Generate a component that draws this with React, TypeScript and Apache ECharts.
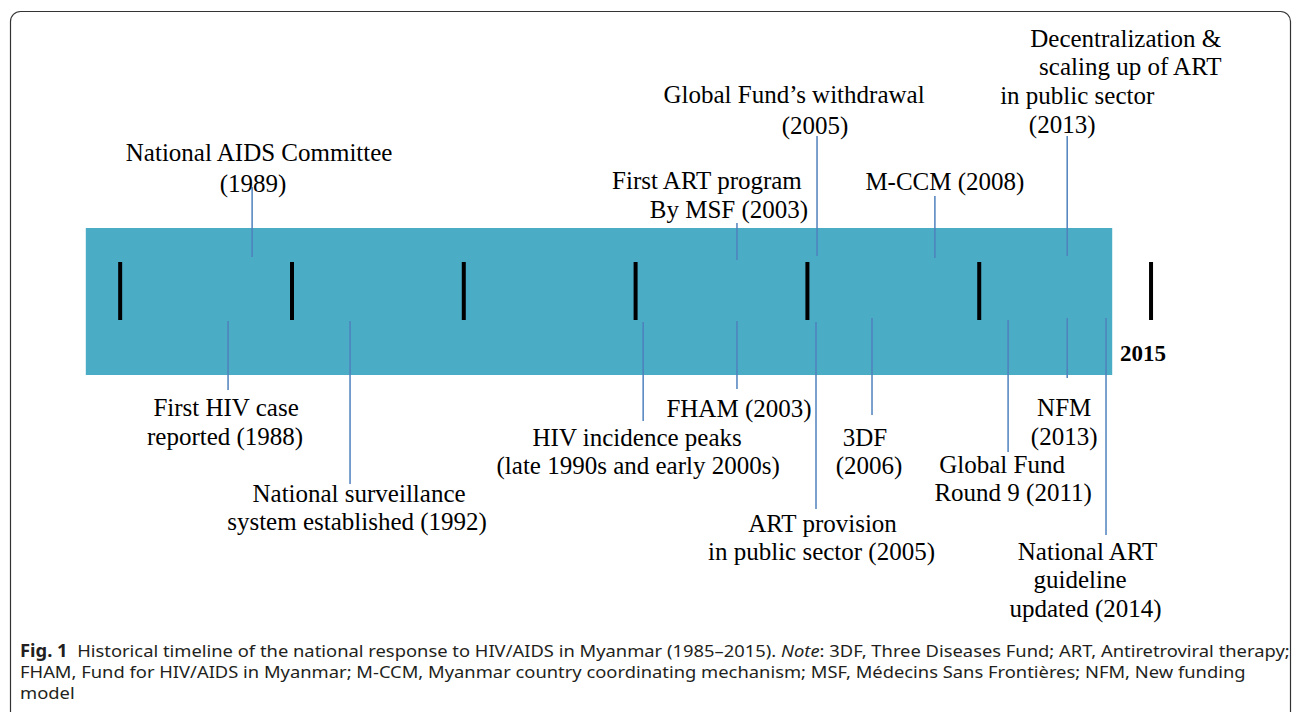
import React, { useEffect, useRef } from "react";
import * as echarts from "echarts";

// ---------- data ----------
const tickYears = [1985, 1990, 1995, 2000, 2005, 2010, 2015];
const tickLabels = ["", "", "", "", "", "", "2015"];
const timelineSpan = [1984, 2013.87]; // extent of the shaded band (years)

const eventText = [
  "National AIDS Committee\n(1989)",
  "First HIV case\nreported (1988)",
  "National surveillance\nsystem established (1992)",
  "HIV incidence peaks\n(late 1990s and early 2000s)",
  "First ART program\nBy MSF (2003)",
  "FHAM (2003)",
  "Global Fund’s withdrawal\n(2005)",
  "ART provision\nin public sector (2005)",
  "3DF\n(2006)",
  "M-CCM (2008)",
  "Global Fund\nRound 9 (2011)",
  "Decentralization &\n scaling up of ART\nin public sector\n(2013)",
  "NFM\n(2013)",
  "National ART\nguideline\nupdated (2014)",
];
const eventYear = [1989, 1988, 1992, 2000, 2003, 2003, 2005, 2005, 2006, 2008, 2011, 2013, 2013, 2014];
// where each event's pointer sits on the drawn timeline (in years)
const eventAnchor = [
  1988.84, 1988.14, 1991.69, 2000.22, 2002.95, 2002.95, 2005.28, 2005.25, 2006.88, 2008.71, 2010.84,
  2012.56, 2012.56, 2013.69,
];

const captionLines = [
  "{b|Fig. 1}  Historical timeline of the national response to HIV/AIDS in Myanmar (1985–2015). {i|Note}: 3DF, Three Diseases Fund; ART, Antiretroviral therapy;",
  "FHAM, Fund for HIV/AIDS in Myanmar; M-CCM, Myanmar country coordinating mechanism; MSF, Médecins Sans Frontières; NFM, New funding",
  "model",
];

// ---------- layout (pixels) ----------
const eventLine: number[][] = [
  [187, 257],
  [321, 390],
  [321, 484],
  [322, 421],
  [223, 260],
  [321, 389],
  [136, 256],
  [322, 509],
  [318, 415],
  [196, 258],
  [320, 452],
  [136, 256],
  [318, 378],
  [318, 535],
];
const eventLabelPos: number[][][] = [
  [[7, 152], [1, 183]],
  [[-2, 407.5], [-3, 436.5]],
  [[9, 493], [7, 521.5]],
  [[-6, 437], [-5, 465]],
  [[-30, 180], [-8, 209.5]],
  [[2, 408]],
  [[-23, 94.5], [-2, 125]],
  [[6.5, 523], [5.5, 551]],
  [[-7, 437], [-3, 465]],
  [[10, 181]],
  [[-6, 464.5], [5, 492.5]],
  [[58.5, 38], [60, 66], [10, 95], [-5, 124]],
  [[-3, 407.5], [-3, 436.5]],
  [[-18.5, 551], [-26, 579.5], [-20.5, 608]],
];

const SERIF = "'Liberation Serif', 'Times New Roman', serif";
const SANS = "'Noto Sans', 'Open Sans', sans-serif";
const BAND_COLOR = "#4BACC6";
const LINE_COLOR = "#4F81BD";
const CAP_SIZE = 17;
const CAP_COLOR = "#231f20";

export default function App() {
  const ref = useRef<HTMLDivElement>(null);
  useEffect(() => {
    if (!ref.current) return;
    const chart = echarts.init(ref.current, undefined, { renderer: "svg" });
    const captionGraphics = captionLines.map((line, k) => ({
      type: "text",
      x: 20,
      y: 650 + k * 21,
      scaleX: 1.08,
      silent: true,
      style: {
        text: line,
        fill: CAP_COLOR,
        fontFamily: SANS,
        fontSize: CAP_SIZE,
        verticalAlign: "middle",
        rich: {
          b: { fontFamily: SANS, fontSize: CAP_SIZE, fontWeight: "bold", fill: CAP_COLOR },
          i: { fontFamily: SANS, fontSize: CAP_SIZE, fontStyle: "italic", fill: CAP_COLOR },
        },
      },
    }));
    const option: any = {
      animation: false,
      backgroundColor: "#ffffff",
      grid: { left: 85.8, right: 109.6, top: 228, bottom: 337 },
      xAxis: { type: "value", min: 1984, max: 2016, show: false },
      yAxis: { type: "value", min: 0, max: 1, show: false },
      graphic: [
        {
          type: "rect",
          silent: true,
          shape: { x: 10.5, y: 11.5, width: 1280, height: 800, r: 10 },
          style: { fill: "none", stroke: "#333333", lineWidth: 1.2 },
        },
        ...captionGraphics,
      ],
      series: [
        {
          type: "custom",
          name: "band",
          silent: true,
          data: [[timelineSpan[0], timelineSpan[1]]],
          renderItem: (params: any, api: any) => {
            const p0 = api.coord([api.value(0), 1]);
            const p1 = api.coord([api.value(1), 0]);
            return {
              type: "rect",
              shape: { x: p0[0], y: p0[1], width: p1[0] - p0[0], height: p1[1] - p0[1] },
              style: { fill: BAND_COLOR },
            };
          },
        },
        {
          type: "custom",
          name: "ticks",
          silent: true,
          data: tickYears.map((y) => [y, 0.5]),
          renderItem: (params: any, api: any) => {
            const x = api.coord([api.value(0), 0.5])[0];
            const lbl = tickLabels[params.dataIndex];
            const children: any[] = [
              { type: "rect", shape: { x: x - 2, y: 262, width: 4, height: 58 }, style: { fill: "#000000" } },
            ];
            if (lbl) {
              children.push({
                type: "text",
                x: x - 8,
                y: 353,
                style: {
                  text: lbl,
                  fill: "#000000",
                  fontFamily: SERIF,
                  fontSize: 23,
                  fontWeight: "bold",
                  align: "center",
                  verticalAlign: "middle",
                },
              });
            }
            return { type: "group", children };
          },
        },
        {
          type: "custom",
          name: "events",
          silent: true,
          data: eventAnchor.map((a, i) => [a, 0.5, eventYear[i]]),
          renderItem: (params: any, api: any) => {
            const i = params.dataIndex;
            const x = api.coord([api.value(0), 0.5])[0];
            const [y1, y2] = eventLine[i];
            const children: any[] = [
              {
                type: "line",
                shape: { x1: x, y1, x2: x, y2 },
                style: { stroke: LINE_COLOR, lineWidth: 1.5 },
              },
            ];
            eventText[i].split("\n").forEach((t, k) => {
              const [dx, ty] = eventLabelPos[i][k];
              children.push({
                type: "text",
                x: x + dx,
                y: ty,
                style: {
                  text: t,
                  fill: "#000000",
                  fontFamily: SERIF,
                  fontSize: 25,
                  align: "center",
                  verticalAlign: "middle",
                },
              });
            });
            return { type: "group", children };
          },
        },
      ],
    };
    chart.setOption(option);
    return () => chart.dispose();
  }, []);
  return (
    <div
      ref={ref}
      style={{ position: "absolute", left: 0, top: 0, width: 1295, height: 712, background: "#fff" }}
    />
  );
}
